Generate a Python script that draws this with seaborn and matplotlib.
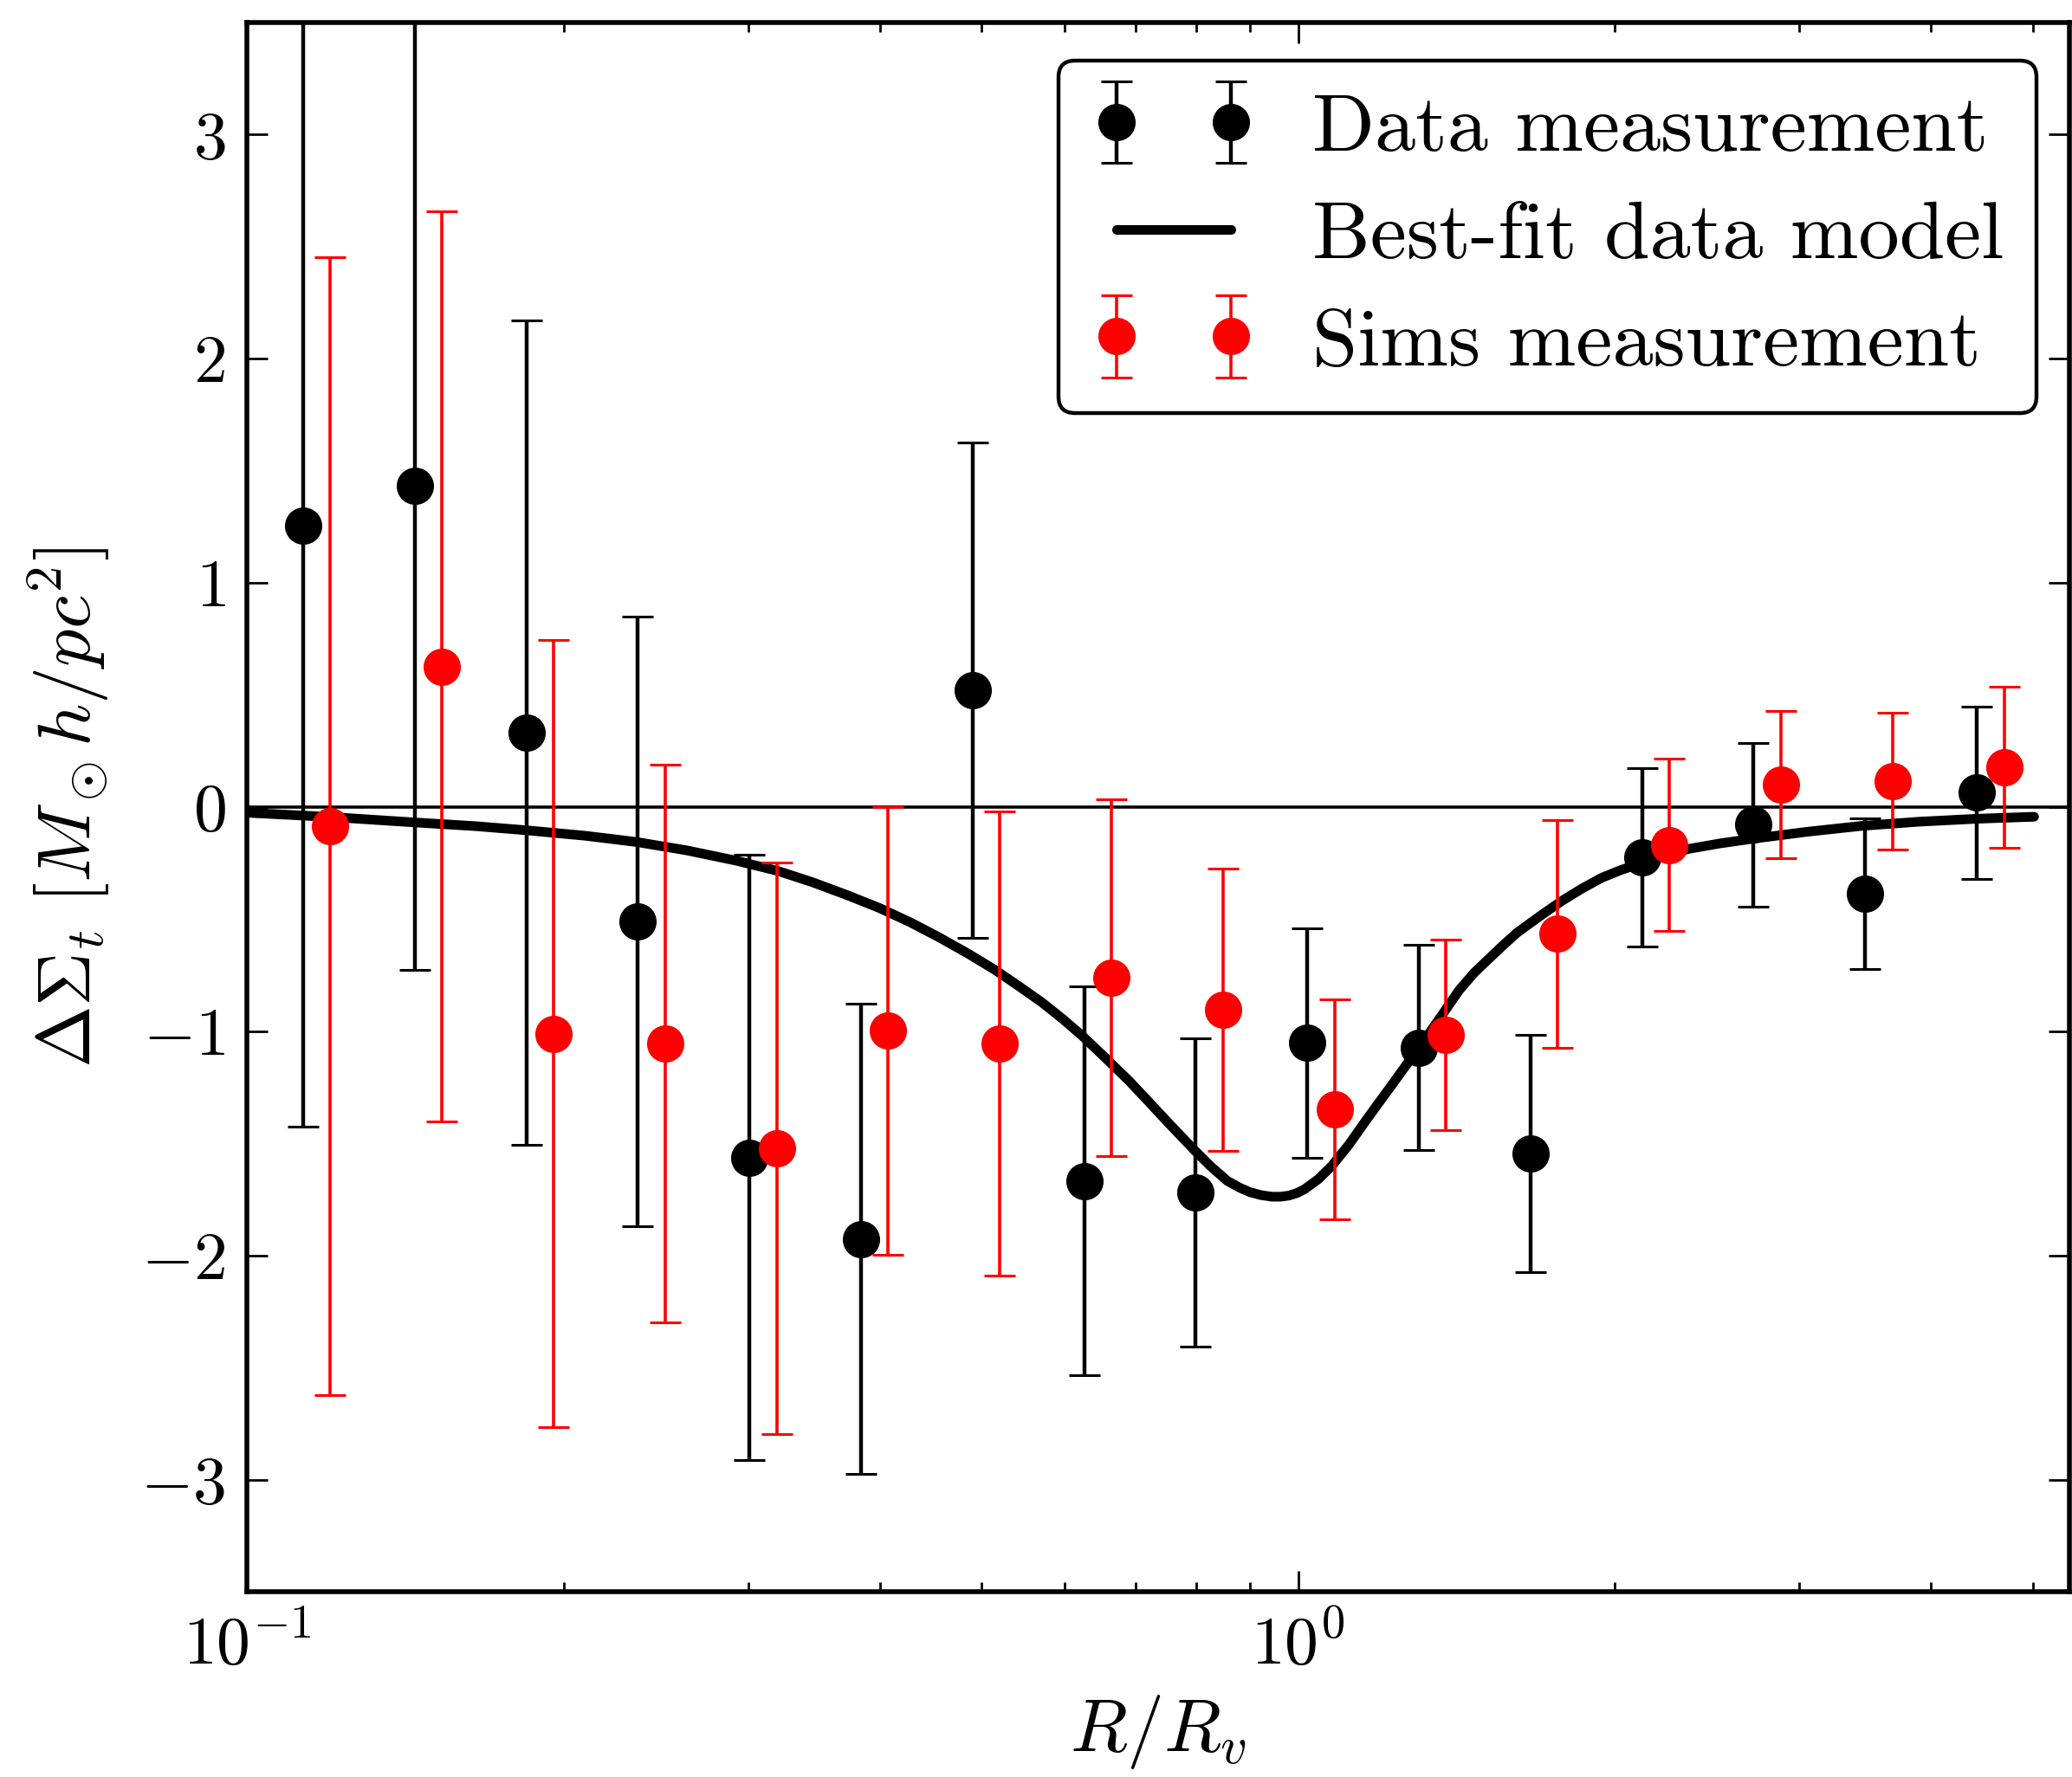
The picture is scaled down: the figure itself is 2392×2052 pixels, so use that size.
import numpy as np
import pandas as pd
import matplotlib
matplotlib.use("Agg")
import matplotlib.pyplot as plt
import seaborn as sns
from matplotlib.ticker import NullFormatter, LogLocator, FixedLocator

# ---------------- data ----------------
data_r = [0.1130, 0.1443, 0.1843, 0.2353, 0.3005, 0.3837, 0.4900, 0.6257,
          0.7990, 1.0203, 1.3028, 1.6637, 2.1245, 2.7129, 3.4643, 4.4239]
data_ds = [1.256, 1.434, 0.333, -0.509, -1.564, -1.926, 0.523, -1.668,
           -1.718, -1.052, -1.072, -1.545, -0.223, -0.078, -0.387, 0.064]
data_err = [2.68, 2.16, 1.84, 1.36, 1.35, 1.05, 1.105, 0.868,
            0.688, 0.513, 0.458, 0.530, 0.397, 0.365, 0.337, 0.385]

sims_r = [0.1200, 0.1532, 0.1956, 0.2498, 0.3190, 0.4073, 0.5201, 0.6642,
          0.8481, 1.0830, 1.3830, 1.7660, 2.2552, 2.8798, 3.6774, 4.6959]
sims_ds = [-0.085, 0.627, -1.011, -1.054, -1.523, -0.998, -1.056, -0.760,
           -0.904, -1.349, -1.017, -0.564, -0.168, 0.102, 0.115, 0.179]
sims_err = [2.54, 2.03, 1.756, 1.245, 1.274, 1.0, 1.035, 0.795,
            0.63, 0.49, 0.425, 0.508, 0.383, 0.328, 0.305, 0.359]

model_r = [0.100, 0.120, 0.144, 0.165, 0.184, 0.210, 0.235, 0.262, 0.292,
           0.320, 0.345, 0.372, 0.400, 0.428, 0.455, 0.485, 0.515, 0.542,
           0.570, 0.597, 0.623, 0.656, 0.690, 0.722, 0.753, 0.797, 0.826,
           0.856, 0.880, 0.900, 0.922, 0.944, 0.962, 0.980, 0.997, 1.014,
           1.045, 1.076, 1.118, 1.161, 1.195, 1.230, 1.263, 1.297, 1.360,
           1.423, 1.470, 1.520, 1.568, 1.616, 1.700, 1.780, 1.860, 1.943,
           2.030, 2.116, 2.230, 2.349, 2.520, 2.700, 3.050, 3.433, 3.900,
           4.420, 5.015]
model_ds = [-0.025, -0.044, -0.068, -0.085, -0.103, -0.128, -0.156, -0.193,
            -0.239, -0.285, -0.335, -0.392, -0.451, -0.515, -0.580, -0.653,
            -0.727, -0.798, -0.870, -0.945, -1.020, -1.120, -1.220, -1.318,
            -1.410, -1.531, -1.603, -1.667, -1.698, -1.718, -1.731, -1.738,
            -1.738, -1.733, -1.722, -1.705, -1.660, -1.602, -1.505, -1.396,
            -1.315, -1.235, -1.160, -1.088, -0.950, -0.817, -0.740, -0.675,
            -0.615, -0.560, -0.485, -0.420, -0.365, -0.316, -0.280, -0.252,
            -0.218, -0.187, -0.162, -0.142, -0.110, -0.084, -0.065, -0.052,
            -0.043]

legend_labels = ["Data measurement", "Best-fit data model", "Sims measurement"]
xlabel = r"$R/R_v$"
ylabel = r"$\Delta\Sigma_t\ [M_\odot h/pc^2]$"

# ---------------- style ----------------
sns.set_theme(style="ticks")
plt.rcParams.update({
    "font.family": ["cmr10", "DejaVu Serif"],
    "mathtext.fontset": "cm",
    "axes.formatter.use_mathtext": True,
    "axes.edgecolor": "black",
    "axes.linewidth": 2.0,
    "xtick.color": "black",
    "ytick.color": "black",
    "text.color": "black",
    "axes.labelcolor": "black",
})

fig = plt.figure(figsize=(11.96, 10.26), dpi=200)
ax = fig.add_axes([0.1193, 0.1043, 0.8795, 0.8830])
ax.set_facecolor("white")

ax.axhline(0, color="black", lw=1.3, zorder=1)

eb_data = ax.errorbar(data_r, data_ds, yerr=data_err, fmt="o", color="black",
                      ms=14.5, capsize=6.5, elinewidth=1.6, capthick=1.1,
                      zorder=2)

model_df = pd.DataFrame({"R": model_r, "DS": model_ds})
sns.lineplot(data=model_df, x="R", y="DS", ax=ax, color="black", lw=4.0,
             estimator=None, legend=False, zorder=3)
model_line = ax.get_lines()[-1]
model_line.set_solid_joinstyle("round")
model_line.set_solid_capstyle("round")

eb_sims = ax.errorbar(sims_r, sims_ds, yerr=sims_err, fmt="o", color="red",
                      ms=14.5, capsize=6.5, elinewidth=1.3, capthick=1.1,
                      zorder=4)

ax.set_xscale("log")
ax.set_xlim(0.1, 5.42)
ax.set_ylim(-3.5, 3.5)
ax.yaxis.set_major_locator(FixedLocator([-3, -2, -1, 0, 1, 2, 3]))
ax.xaxis.set_major_locator(LogLocator(base=10))
ax.xaxis.set_minor_locator(LogLocator(base=10, subs=np.arange(2, 10)))
ax.xaxis.set_minor_formatter(NullFormatter())

ax.tick_params(which="both", direction="in", top=True, right=True,
               labelsize=28, pad=9)
ax.tick_params(which="major", length=8.5, width=1.0)
ax.tick_params(which="minor", length=4.0, width=1.0)
ax.tick_params(axis="y", which="minor", left=False, right=False)

ax.set_xlabel(xlabel, fontsize=31, labelpad=6)
ax.set_ylabel(ylabel, fontsize=31, labelpad=12)

for s in ax.spines.values():
    s.set_linewidth(2.0)
    s.set_color("black")

leg = ax.legend([eb_data, model_line, eb_sims], legend_labels,
                loc="upper right", bbox_to_anchor=(0.982, 0.9757),
                borderaxespad=0.0, numpoints=2, fontsize=34, frameon=True,
                fancybox=True, framealpha=1, edgecolor="black",
                labelspacing=0.42, handletextpad=0.7)
leg.get_frame().set_linewidth(1.6)

fig.savefig("out.png", dpi=200, facecolor="white")
